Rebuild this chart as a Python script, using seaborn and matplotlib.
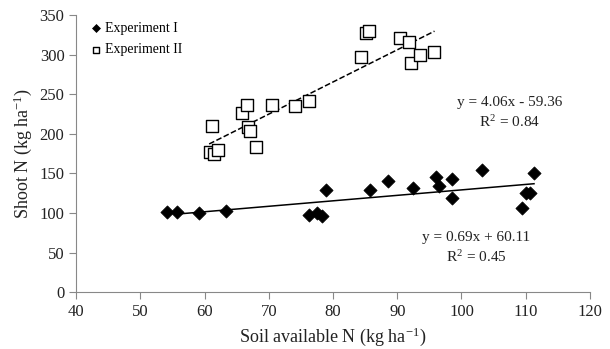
import numpy as np
import pandas as pd
import seaborn as sns
import matplotlib.pyplot as plt

# Experiment I (filled diamonds)
exp1_x = [54.1, 55.7, 59.1, 63.3, 76.2, 77.5, 78.2, 78.9, 85.8, 88.5, 92.4,
          96.0, 96.5, 98.6, 98.5, 103.2, 109.4, 110.0, 110.7, 111.3]
exp1_y = [100.7, 100.7, 99.5, 103, 97, 99.5, 96, 129, 129, 140, 131,
          146, 134, 143, 119, 154, 106, 125.5, 125.5, 150]

# Experiment II (open squares)
exp2_x = [61.2, 65.8, 66.6, 70.5, 66.8, 67.1, 68.0, 60.9, 61.5, 62.1, 74.0,
          76.3, 84.4, 85.1, 85.6, 90.4, 91.9, 92.2, 93.5, 95.8]
exp2_y = [210, 226, 236, 236, 208, 204, 183, 177, 175, 180, 235,
          241, 297, 327, 330, 321, 316, 289, 300, 303]

# fitted trend lines as printed on the chart
fit1 = (0.69, 60.11, 0.45)
fit2 = (4.06, -59.36, 0.84)

plt.rcParams['font.family'] = ['Liberation Serif', 'DejaVu Serif']
plt.rcParams['mathtext.fontset'] = 'stix'

df = pd.concat([
    pd.DataFrame({'x': exp1_x, 'y': exp1_y, 'exp': 'Experiment I'}),
    pd.DataFrame({'x': exp2_x, 'y': exp2_y, 'exp': 'Experiment II'}),
])

fig, ax = plt.subplots(figsize=(6.1, 3.49), dpi=100)
fig.subplots_adjust(left=0.125, right=0.967, bottom=0.163, top=0.957)

sns.scatterplot(data=df[df['exp'] == 'Experiment I'], x='x', y='y', marker='D',
                s=45, color='black', edgecolor='black', label='Experiment I', ax=ax, zorder=3)
sns.scatterplot(data=df[df['exp'] == 'Experiment II'], x='x', y='y', marker='s',
                s=70, facecolor='white', edgecolor='black', linewidth=1.0,
                label='Experiment II', ax=ax, zorder=3)

# trend lines over the data range
for xs, (m, b, r2), ls in [(exp1_x, fit1, '-'), (exp2_x, fit2, '--')]:
    lx = np.array([min(xs) + 1.4 if ls == '-' else min(xs) - 0.2, max(xs)])
    ax.plot(lx, m * lx + b, color='black', lw=1.1, ls=ls, zorder=2)

ax.text(107.5, 226, "y = 4.06x - 59.36\nR$^{\\mathregular{2}}$ = 0.84", ha='center', va='center',
        fontsize=11, color='#222222', linespacing=1.3)
ax.text(102.3, 56, "y = 0.69x + 60.11\nR$^{\\mathregular{2}}$ = 0.45", ha='center', va='center',
        fontsize=11, color='#222222', linespacing=1.3)

ax.set_xlim(40, 120)
ax.set_ylim(0, 350)
ax.set_xticks(range(40, 121, 10))
ax.set_yticks(range(0, 351, 50))
ax.set_xlabel('Soil available N (kg ha$^{\\mathregular{-1}}$)', fontsize=13, color='#222222')
ax.set_ylabel('Shoot N (kg ha$^{\\mathregular{-1}}$)', fontsize=13, color='#222222')
ax.tick_params(labelsize=12, colors='#888888', labelcolor='#222222', direction='out', length=5)
for side in ['top', 'right']:
    ax.spines[side].set_visible(False)
for side in ['left', 'bottom']:
    ax.spines[side].set_color('#888888')

leg = ax.legend(loc='upper left', bbox_to_anchor=(0.0, 1.02), frameon=False, fontsize=10,
                handletextpad=0.2, handlelength=1.0, labelspacing=0.6, markerscale=0.6)

plt.savefig('out.png')
plt.close()
